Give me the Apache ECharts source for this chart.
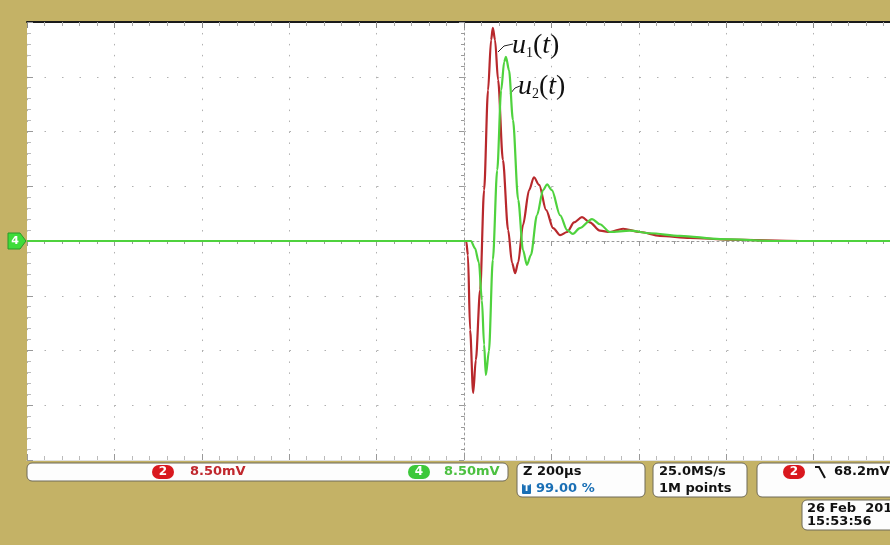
<!DOCTYPE html>
<html>
<head>
<meta charset="utf-8">
<script src="https://cdn.jsdelivr.net/npm/echarts@6/dist/echarts.min.js"></script>
<style>
  html, body { margin: 0; padding: 0; background: #c4b266; overflow: hidden; width: 890px; height: 545px; }
  #main { width: 912px; height: 545px; }
</style>
</head>
<body>
<div id="main"></div>
<script>
// time in µs (200 µs/div), voltage in mV (8.50 mV/div)
const timeRange = [-1000, 1000]
const voltRange = [-34, 34]

// channel 2 (red) - u1(t)
const u1Time = [-1000, 5, 9, 14, 21, 27, 37, 46, 55, 62, 66, 71, 78, 89, 101, 110, 117, 124, 135, 149, 160, 172, 188, 204, 220, 236, 252, 270, 288, 311, 334, 364, 403, 448, 517, 609, 769, 1000]
const u1Volt = [0, 0, -2.2, -13.8, -23.6, -18.5, -7.6, 7.9, 23.4, 31.2, 33.1, 31.2, 25.0, 12.6, 1.7, -3.4, -5.0, -3.3, 2.5, 7.9, 9.9, 8.7, 4.8, 2.0, 0.9, 1.4, 2.9, 3.7, 2.9, 1.6, 1.4, 1.9, 1.4, 0.8, 0.5, 0.2, 0, 0]

// channel 4 (green) - u2(t)
const u2Time = [-1000, 16, 25, 34, 41, 46, 50, 57, 66, 76, 85, 92, 96, 103, 112, 124, 135, 144, 153, 167, 181, 190, 201, 220, 236, 249, 265, 293, 311, 334, 380, 426, 494, 586, 723, 1000]
const u2Volt = [0, 0, -1.1, -3.3, -9.2, -16.1, -20.8, -17.1, -2.9, 11.0, 23.4, 27.8, 28.6, 26.5, 18.8, 6.4, -1.4, -3.7, -2.2, 4.0, 7.9, 8.8, 7.9, 4.0, 1.7, 1.1, 2.0, 3.4, 2.6, 1.4, 1.6, 1.2, 0.8, 0.3, 0, 0]

const zip = (xs, ys) => xs.map((x, i) => [x, ys[i]])

const chart = echarts.init(document.getElementById('main'))

const mono = 'DejaVu Sans'
const serif = 'Liberation Serif'

// 屏幕下方的信息框
const box = (x, y, w, h) => ({
    type: 'rect', shape: { x: x, y: y, width: w, height: h, r: 5 },
    style: { fill: '#fdfdfd', stroke: '#6f6a58', lineWidth: 1 }
})
const badge = (cx, cy, label, color) => ({
    type: 'group', children: [
        { type: 'rect', shape: { x: cx - 11, y: cy - 7, width: 22, height: 14, r: 7 }, style: { fill: color } },
        { type: 'text', x: cx, y: cy, style: { text: label, fill: '#fff', font: 'bold 12px ' + mono, align: 'center', verticalAlign: 'middle' } }
    ]
})
const txt = (x, y, s, color) => ({
    type: 'text', x: x, y: y,
    style: { text: s, fill: color || '#111', font: 'bold 13px ' + mono, verticalAlign: 'middle' }
})
const label = (x, y, n) => ({
    type: 'text', x: x, y: y,
    style: {
        text: '{u|u}{s|' + n + '}{p|(}{u|t}{p|)}',
        verticalAlign: 'middle',
        rich: {
            u: { fontFamily: serif, fontStyle: 'italic', fontSize: 28, fill: '#111' },
            p: { fontFamily: serif, fontSize: 28, fill: '#111' },
            s: { fontFamily: serif, fontSize: 14, fill: '#111', verticalAlign: 'bottom' }
        }
    }
})

const gridDots = { color: '#b0b0b0', width: 1 }

const options = {
    backgroundColor: '#c4b266',
    animation: false,
    grid: {
        left: 27, top: 22, width: 874, height: 438,
        show: true, backgroundColor: '#ffffff', borderWidth: 0
    },
    xAxis: [
        {
            type: 'value', min: timeRange[0], max: timeRange[1], interval: 200,
            axisLine: { show: true, onZero: true, lineStyle: { color: '#9a9a9a', type: [2, 3] } },
            axisTick: { show: true, length: 5, lineStyle: { color: '#9a9a9a' } },
            minorTick: { show: true, splitNumber: 5, length: 3, lineStyle: { color: '#9a9a9a' } },
            axisLabel: { show: false },
            splitLine: { show: true, lineStyle: Object.assign({ type: [1.5, 9.45] }, gridDots) }
        },
        {
            type: 'value', position: 'top', min: timeRange[0], max: timeRange[1], interval: 200,
            axisLine: { show: true, onZero: false, lineStyle: { color: '#1a1a1a', width: 2 } },
            axisTick: { show: true, inside: true, length: 6, lineStyle: { color: '#888' } },
            minorTick: { show: true, splitNumber: 5, length: 4, lineStyle: { color: '#aaa' } },
            axisLabel: { show: false }, splitLine: { show: false }
        },
        {
            type: 'value', position: 'bottom', min: timeRange[0], max: timeRange[1], interval: 200,
            axisLine: { show: true, onZero: false, lineStyle: { color: '#e0e0e0', width: 1 } },
            axisTick: { show: true, inside: true, length: 6, lineStyle: { color: '#999' } },
            minorTick: { show: true, splitNumber: 5, length: 4, lineStyle: { color: '#bbb' } },
            axisLabel: { show: false }, splitLine: { show: false }
        }
    ],
    yAxis: [
        {
            type: 'value', min: voltRange[0], max: voltRange[1], interval: 8.5,
            axisLine: { show: true, onZero: true, lineStyle: { color: '#9a9a9a', type: [2, 3] } },
            axisTick: { show: true, length: 5, lineStyle: { color: '#9a9a9a' } },
            minorTick: { show: true, splitNumber: 5, length: 3, lineStyle: { color: '#9a9a9a' } },
            axisLabel: { show: false },
            splitLine: { show: true, lineStyle: Object.assign({ type: [1.5, 16] }, gridDots) }
        },
        {
            type: 'value', position: 'left', min: voltRange[0], max: voltRange[1], interval: 8.5,
            axisLine: { show: false, onZero: false },
            axisTick: { show: true, inside: true, length: 6, lineStyle: { color: '#999' } },
            minorTick: { show: true, splitNumber: 5, length: 4, lineStyle: { color: '#bbb' } },
            axisLabel: { show: false }, splitLine: { show: false }
        }
    ],
    series: [
        {
            name: 'u1', type: 'line', data: zip(u1Time, u1Volt),
            showSymbol: false, smooth: 0.3, smoothMonotone: 'x',
            lineStyle: { color: '#b8282c', width: 2.2 }
        },
        {
            name: 'u2', type: 'line', data: zip(u2Time, u2Volt),
            showSymbol: false, smooth: 0.3, smoothMonotone: 'x',
            lineStyle: { color: '#4fd23e', width: 2.2 }
        }
    ],
    graphic: [
        // 通道4 零点标记
        {
            type: 'polygon', shape: { points: [[8, 233], [20, 233], [26, 241], [20, 249], [8, 249]] },
            style: { fill: '#3fdc3a', stroke: '#2a9a28' }
        },
        { type: 'text', x: 15, y: 241, style: { text: '4', fill: '#fff', font: 'bold 11px ' + mono, align: 'center', verticalAlign: 'middle' } },

        // 曲线标注
        label(512, 46, '1'),
        { type: 'polyline', shape: { points: [[498, 52], [504, 46], [513, 44]] }, style: { stroke: '#222', lineWidth: 1, fill: null } },
        label(518, 87, '2'),
        { type: 'polyline', shape: { points: [[510, 94], [515, 88], [520, 86]] }, style: { stroke: '#222', lineWidth: 1, fill: null } },

        // 底部信息栏
        box(27, 463, 481, 18),
        badge(163, 472, '2', '#d9181e'),
        txt(190, 472, '8.50mV', '#c0272d'),
        badge(419, 472, '4', '#3cc83a'),
        txt(444, 472, '8.50mV', '#4cc040'),

        box(517, 463, 128, 34),
        txt(523, 472, 'Z 200µs'),
        { type: 'rect', shape: { x: 522, y: 484, width: 9, height: 10, r: 1 }, style: { fill: '#1a6fb5' } },
        { type: 'text', x: 526.5, y: 489, style: { text: 'T', fill: '#fff', font: 'bold 9px ' + mono, align: 'center', verticalAlign: 'middle' } },
        txt(536, 489, '99.00 %', '#1a6fb5'),

        box(653, 463, 94, 34),
        txt(659, 472, '25.0MS/s'),
        txt(659, 489, '1M points'),

        box(757, 463, 150, 34),
        badge(794, 472, '2', '#d9181e'),
        { type: 'polyline', shape: { points: [[815, 467], [819, 467], [825, 478]] }, style: { stroke: '#111', lineWidth: 2, fill: null } },
        txt(834, 472, '68.2mV'),

        box(802, 500, 100, 30),
        txt(807, 509, '26 Feb  2010'),
        txt(807, 522, '15:53:56')
    ]
}

chart.setOption(options)
</script>
</body>
</html>
